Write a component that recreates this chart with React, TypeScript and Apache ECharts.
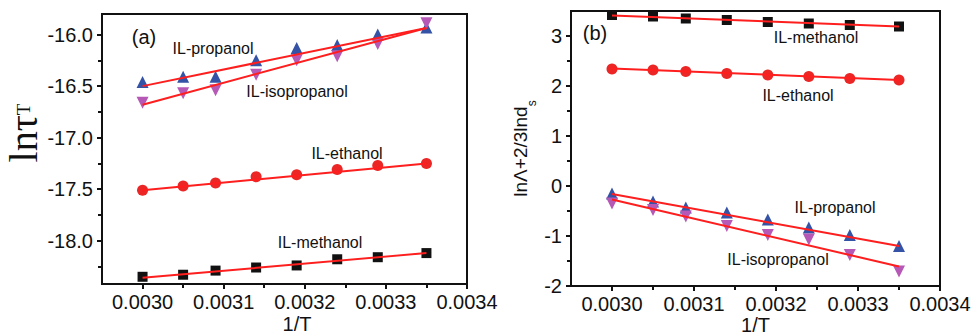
import React, { useEffect, useRef } from "react";
import * as echarts from "echarts";

// 1/T values shared by both panels
const invT = [0.003, 0.00305, 0.00309, 0.00314, 0.00319, 0.00324, 0.00329, 0.00335];
const fitInvT = [0.003, 0.00335];

// Panel (a): ln tau_T
const aMethanol = [-18.35, -18.33, -18.29, -18.26, -18.24, -18.18, -18.16, -18.12];
const aEthanol = [-17.51, -17.47, -17.44, -17.38, -17.36, -17.31, -17.27, -17.25];
const aPropanol = [-16.46, -16.41, -16.41, -16.25, -16.13, -16.1, -16.0, -15.93];
const aIsopropanol = [-16.66, -16.57, -16.54, -16.39, -16.25, -16.21, -16.09, -15.89];
const aFitMethanol = [-18.36, -18.12];
const aFitEthanol = [-17.51, -17.25];
const aFitPropanol = [-16.5, -15.935];
const aFitIsopropanol = [-16.68, -15.935];

// Panel (b): lnΛ + 2/3 ln d_s
const bMethanol = [3.42, 3.39, 3.35, 3.32, 3.28, 3.25, 3.22, 3.19];
const bEthanol = [2.34, 2.32, 2.29, 2.25, 2.22, 2.19, 2.15, 2.12];
const bPropanol = [-0.15, -0.31, -0.43, -0.53, -0.67, -0.83, -0.98, -1.2];
const bIsopropanol = [-0.35, -0.48, -0.61, -0.8, -0.98, -1.07, -1.38, -1.71];
const bFitMethanol = [3.41, 3.19];
const bFitEthanol = [2.35, 2.12];
const bFitPropanol = [-0.16, -1.2];
const bFitIsopropanol = [-0.27, -1.61];

// Tick values
const xMajorTicks = [0.003, 0.0031, 0.0032, 0.0033, 0.0034];
const xMinorTicks = [0.00305, 0.00315, 0.00325, 0.00335];
const aYMajorTicks = [-18.0, -17.5, -17.0, -16.5, -16.0];
const aYMinorTicks = [-18.25, -17.75, -17.25, -16.75, -16.25];
const bYMajorTicks = [-2, -1, 0, 1, 2, 3];
const bYMinorTicks = [-1.5, -0.5, 0.5, 1.5, 2.5];

const X_MIN = 0.00295;
const X_MAX = 0.0034;
const A_Y_MIN = -18.42;
const A_Y_MAX = -15.8;
const B_Y_MIN = -2;
const B_Y_MAX = 3.5;

const FONT = "'Liberation Sans', Arial, sans-serif";
const SERIF = "'Liberation Serif', 'Times New Roman', serif";
const BLACK = "#111111";
const RED = "#ec2525";
const BLUE = "#3553a6";
const PURPLE = "#b659b6";
const FIT = "#ff1e1e";

const pairs = (xs: number[], ys: number[]) => xs.map((x, i) => [x, ys[i]]);

export default function App() {
  const ref = useRef<HTMLDivElement>(null);

  useEffect(() => {
    if (!ref.current) return;
    const chart = echarts.init(ref.current, undefined, { renderer: "svg" });

    const axisLine = { show: true, onZero: false, lineStyle: { color: BLACK, width: 2 } };

    const xMain = (gridIndex: number, name: string, padLeft: number, gap: number) => ({
      type: "value",
      gridIndex,
      min: X_MIN,
      max: X_MAX,
      position: "bottom",
      name,
      nameLocation: "middle",
      nameGap: gap,
      nameMoveOverlap: false,
      nameTextStyle: { fontFamily: FONT, fontSize: 20, lineHeight: 18, color: BLACK, padding: [0, 0, 0, padLeft] },
      axisLine,
      axisTick: { show: true, inside: false, length: 5, lineStyle: { color: BLACK, width: 2 }, customValues: xMajorTicks },
      axisLabel: {
        show: true,
        customValues: xMajorTicks,
        formatter: (v: number) => v.toFixed(4),
        fontFamily: FONT,
        fontSize: 20,
        lineHeight: 20,
        color: BLACK,
        margin: 8,
      },
      splitLine: { show: false },
    });
    const xMinor = (gridIndex: number) => ({
      type: "value",
      gridIndex,
      min: X_MIN,
      max: X_MAX,
      position: "bottom",
      axisLine: { show: false, onZero: false },
      axisTick: { show: true, inside: false, length: 4, lineStyle: { color: BLACK, width: 2 }, customValues: xMinorTicks },
      axisLabel: { show: false },
      splitLine: { show: false },
    });

    const yMinor = (gridIndex: number, min: number, max: number, ticks: number[]) => ({
      type: "value",
      gridIndex,
      min,
      max,
      position: "left",
      axisLine: { show: false, onZero: false },
      axisTick: { show: true, inside: false, length: 4, lineStyle: { color: BLACK, width: 2 }, customValues: ticks },
      axisLabel: { show: false },
      splitLine: { show: false },
    });

    const scatter = (name: string, xi: number, yi: number, ys: number[], symbol: string, size: number, color: string, rotate = 0) => ({
      name,
      type: "scatter",
      xAxisIndex: xi,
      yAxisIndex: yi,
      data: pairs(invT, ys),
      symbol,
      symbolSize: size,
      symbolRotate: rotate,
      itemStyle: { color, opacity: 1 },
      z: 3,
    });
    const fit = (name: string, xi: number, yi: number, ys: number[]) => ({
      name,
      type: "line",
      xAxisIndex: xi,
      yAxisIndex: yi,
      data: pairs(fitInvT, ys),
      showSymbol: false,
      symbol: "none",
      lineStyle: { color: FIT, width: 2 },
      z: 4,
    });

    const label = (text: string, x: number, y: number, size = 16) => ({
      type: "text",
      x,
      y,
      z: 10,
      style: { text, fontFamily: FONT, fontSize: size, fill: BLACK, align: "center", verticalAlign: "middle" },
    });

    const gridCommon = {
      show: true,
      borderColor: BLACK,
      borderWidth: 2,
      backgroundColor: "transparent",
      containLabel: false,
      outerBoundsMode: "none",
    };

    chart.setOption({
      animation: false,
      backgroundColor: "#ffffff",
      grid: [
        { ...gridCommon, left: 102, top: 14, width: 365, height: 270 },
        { ...gridCommon, left: 571, top: 11, width: 369, height: 275 },
      ],
      xAxis: [xMain(0, "1/T", 25, 31), xMinor(0), xMain(1, "1/T", 0, 30), xMinor(1)],
      yAxis: [
        {
          type: "value",
          gridIndex: 0,
          min: A_Y_MIN,
          max: A_Y_MAX,
          position: "left",
          name: "{m|lnτ}{s|T}",
          nameLocation: "middle",
          nameGap: 50,
          nameRotate: 90,
          nameTextStyle: {
            padding: [0, 0, 0, 32],
            rich: {
              m: { fontFamily: SERIF, fontSize: 40, lineHeight: 44, color: BLACK, verticalAlign: "middle" },
              s: { fontFamily: SERIF, fontSize: 19, lineHeight: 44, color: BLACK, verticalAlign: "middle" },
            },
          },
          axisLine,
          axisTick: { show: true, inside: false, length: 5, lineStyle: { color: BLACK, width: 2 }, customValues: aYMajorTicks },
          axisLabel: {
            show: true,
            customValues: aYMajorTicks,
            formatter: (v: number) => v.toFixed(1),
            fontFamily: FONT,
            fontSize: 20,
            color: BLACK,
            margin: 9,
          },
          splitLine: { show: false },
        },
        yMinor(0, A_Y_MIN, A_Y_MAX, aYMinorTicks),
        {
          type: "value",
          gridIndex: 1,
          min: B_Y_MIN,
          max: B_Y_MAX,
          position: "left",
          name: "{m|lnΛ+2/3lnd}{s|s}",
          nameLocation: "middle",
          nameGap: 33,
          nameRotate: 90,
          nameTextStyle: {
            rich: {
              m: { fontFamily: FONT, fontSize: 19, color: BLACK, lineHeight: 22, verticalAlign: "top" },
              s: { fontFamily: FONT, fontSize: 12, color: BLACK, lineHeight: 27, verticalAlign: "bottom" },
            },
          },
          axisLine,
          axisTick: { show: true, inside: false, length: 5, lineStyle: { color: BLACK, width: 2 }, customValues: bYMajorTicks },
          axisLabel: {
            show: true,
            customValues: bYMajorTicks,
            formatter: (v: number) => String(v),
            fontFamily: FONT,
            fontSize: 20,
            color: BLACK,
            margin: 9,
          },
          splitLine: { show: false },
        },
        yMinor(1, B_Y_MIN, B_Y_MAX, bYMinorTicks),
      ],
      series: [
        scatter("IL-methanol", 0, 0, aMethanol, "rect", 10, BLACK),
        scatter("IL-ethanol", 0, 0, aEthanol, "circle", 11, RED),
        scatter("IL-propanol", 0, 0, aPropanol, "triangle", 12, BLUE),
        scatter("IL-isopropanol", 0, 0, aIsopropanol, "triangle", 12, PURPLE, 180),
        fit("IL-methanol fit", 0, 0, aFitMethanol),
        fit("IL-ethanol fit", 0, 0, aFitEthanol),
        fit("IL-propanol fit", 0, 0, aFitPropanol),
        fit("IL-isopropanol fit", 0, 0, aFitIsopropanol),
        scatter("IL-methanol", 2, 2, bMethanol, "rect", 10, BLACK),
        scatter("IL-ethanol", 2, 2, bEthanol, "circle", 11, RED),
        scatter("IL-propanol", 2, 2, bPropanol, "triangle", 12, BLUE),
        scatter("IL-isopropanol", 2, 2, bIsopropanol, "triangle", 12, PURPLE, 180),
        fit("IL-methanol fit", 2, 2, bFitMethanol),
        fit("IL-ethanol fit", 2, 2, bFitEthanol),
        fit("IL-propanol fit", 2, 2, bFitPropanol),
        fit("IL-isopropanol fit", 2, 2, bFitIsopropanol),
      ],
      graphic: [
        label("(a)", 144, 37, 20),
        label("IL-propanol", 213, 48),
        label("IL-isopropanol", 297, 91),
        label("IL-ethanol", 347, 153),
        label("IL-methanol", 320, 242),
        label("(b)", 595, 33, 20),
        label("IL-methanol", 816, 37),
        label("IL-ethanol", 798, 95),
        label("IL-propanol", 835, 207),
        label("IL-isopropanol", 778, 259),
      ],
    });

    return () => chart.dispose();
  }, []);

  return (
    <div
      ref={ref}
      style={{ position: "fixed", left: 0, top: 0, width: 971, height: 335, background: "#fff" }}
    />
  );
}
